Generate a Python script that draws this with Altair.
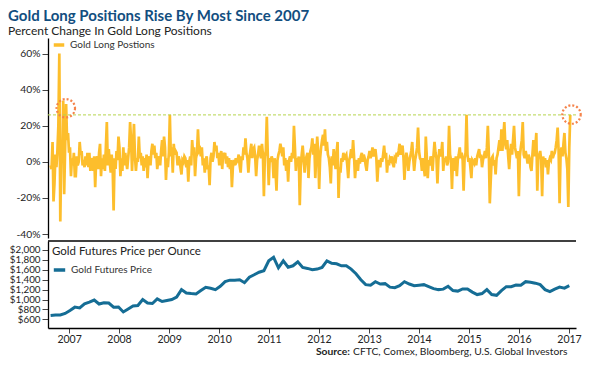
import altair as alt
import pandas as pd

# Percent change in gold long positions (weekly)
long_pct = [
    -2, -4, 11, -22, -12, 4, -3, 6, 20, 60,
    -33, 5, 2, 34, -18, 8, 32, 12, 16, 5,
    8, -8, 2, -2, 5, -8, -8, 3, -2, 0,
    11, 4, 6, -2, 1, -3, 3, -2, 5, -3,
    5, -5, 2, 0, -5, 3, -14, 1, 3, -4,
    5, 10, -8, 2, -4, 4, -5, 8, 22, -2,
    7, 0, -6, 4, -3, -27, 2, -4, 6, 1,
    14, 8, -8, 2, -5, 8, -2, 5, 0, -4,
    2, 8, 22, 12, -5, 8, 21, 3, -5, 2,
    0, 14, 2, 5, -2, 3, -5, 2, -3, 4,
    -9, 1, 3, -2, 6, 10, 4, 9, 2, 5,
    -4, 1, 3, -2, 6, 12, 3, 14, 8, -10,
    2, -3, 5, 26, 3, 8, -6, 10, 4, 6,
    5, -2, 3, 1, -3, -7, 1, 0, 3, 2,
    -3, 1, -11, 0, 3, -2, 12, 4, 8, -8,
    2, 5, 18, 6, 7, 3, 8, -2, 2, -6,
    1, 3, -4, -2, -13, 2, 5, 0, 3, 11,
    6, 9, 2, 5, -2, 3, 6, -4,
    5, 2, 5, -1, 3, -3, 2, -4, 1, -14,
    -3, 1, -2, 2, 0, 1, 4, -2, -6, 3,
    1, 8, 4, 13, 5, 2, -6, 2, 6, 10,
    2, 7, 8, 3, -8, 1, 4, 9, 5, 2,
    10, 4, -19, 3, 6, 25, 4, -13, 2, 0,
    3, 1, -9, 2, -5, -16, 1, 4, 6, 10,
    7, 3, 8, -2, 2, -5, 1, -11, 1, 3,
    0, 5, 2, 20, 8, -5, 2, 0, 3, -24,
    -3, 4, 9, 2, -6, 1, 3, 5, -9, 2,
    6, 8, 13,
    4, 10, -9, 3, 14, 5, -15, 2, 8, 12,
    15, 9, 18, 6, 11, 4, 2, -3, -12, 3,
    -2, 7, 1, -4, 5, 11, -20, -3, -6, 2,
    0, 5, 1, 3, 4, -2, -9, 1, 3, 7,
    2, 12, 3, -9, -2, 1, -5, 2, -1, 3,
    5, 0, 4, 2, -2, -5, 1, 3, 6, 2,
    4, 8, 3, 5, 7, 2, -11, -2, 1, -3,
    2, 0, 4, 9, 2, 5, -6, 1, -2, 2,
    1, 3, -1, -3, 2, 1, 5, 3, 6, 10,
    4, 6,
    9, 2, -10, 1, 5, 2, -5, 0, 3, 6,
    11, 2, -5, 1, 4, 8, 19, 6, 2, 1,
    -5, 2, -3, -8, 14, 3, -9, 1, -2, 3,
    1, -5, 4, 11, 5, 2, -12, 1, 7, 3,
    5, 11, -5, 2, 0, 3, -2, 0, 20, 4,
    1, -15, 2, 0, -5, 3, -8, 1, 4, 8,
    2, 5, 1, -16, 2, 5, 26, 4, 0, 2,
    -3, -9, 1, 0, -1, 2, -2, 3, 5, 7,
    2, 4, -3, 1, 3, 6, 2, 8, 20, 5,
    -23, -10,
    2, 3, -2, 1, -7, 2, 4, 8, 12, 6,
    18, 6, 14, 22, 10, 7, 12, 3, -4, 5,
    10, 4, 12, 20, 8, 5, 2, 6, -19, 3,
    8, 12, 22, 4, 2, 6, 3, -1, 4, 2,
    -3, -5, 4, 12, 3, 8, 16, -16, 2, 4,
    6, 1, -19, 3, 0, 2, -3, 1, -7, 0,
    2, 1, 6, 2, 4, 5, 8, 12, 19, 6,
    -23, 4, 8, 3, 10, 16, 5, 2, -4, -25,
    8, 26,
]

# Gold futures price per ounce (every 5th week)
price = [
    680, 690, 690, 720, 780, 847, 830, 913, 947, 990,
    910, 933, 930, 847, 850, 750, 810, 870, 880, 1000,
    930, 920, 1013, 960, 980, 1000, 1050, 1200, 1130, 1120,
    1113, 1180, 1247, 1227, 1200, 1267, 1360, 1390, 1390, 1400,
    1340, 1450, 1500, 1550, 1580, 1780, 1850, 1640, 1780, 1650,
    1680, 1760, 1647, 1627, 1600, 1613, 1647, 1780, 1730, 1720,
    1680, 1680, 1613, 1520, 1400, 1300, 1290, 1360, 1313, 1320,
    1250, 1240, 1280, 1360, 1313, 1280, 1290, 1300, 1260, 1220,
    1200, 1210, 1267, 1180, 1170, 1213, 1213, 1150, 1100, 1120,
    1200, 1100, 1085, 1180, 1260, 1260, 1293, 1290, 1360, 1350,
    1330, 1300, 1200, 1160, 1210, 1250, 1230, 1280,
]

years = list(range(2007, 2018))
pct_ticks = [-40, -20, 0, 20, 40, 60]
price_ticks = [600, 800, 1000, 1200, 1400, 1600, 1800, 2000]
threshold = [26]
highlight_dates = ["2006-12-08", "2017-01-19"]
highlight_vals = [29.7, 26.2]

GOLD = "#FDBE2C"
BLUE = "#156D95"
GREEN = "#B5D44E"
ORANGE = "#F5834A"
TITLE = "#124E7F"
FONT = "Lato"

dates = pd.date_range("2006-08-19", "2017-01-10", periods=len(long_pct))
top_df = pd.DataFrame({"date": dates, "pct": long_pct, "series": "Gold Long Postions"})
price_df = pd.DataFrame({"date": dates[::5][: len(price)], "price": price,
                         "series": "Gold Futures Price"})
thr_df = pd.DataFrame({"pct": threshold})
hl_df = pd.DataFrame({"date": pd.to_datetime(highlight_dates), "pct": highlight_vals})

W = 528
H1 = 200
H2 = 87
EXT = 39

xscale = alt.Scale(domain=[alt.DateTime(year=2006, month=7, date=31),
                           alt.DateTime(year=2017, month=2, date=21)])
year_ticks = [alt.DateTime(year=y, month=1, date=1) for y in years]

yaxis_common = dict(title=None, grid=False, tickSize=6, labelPadding=2,
                    minExtent=EXT, maxExtent=EXT,
                    labelFont=FONT, labelColor="#222", tickColor="#444",
                    domainColor="#000", domainWidth=1.3, labelOverlap=False,
                    labelBound=False)

pct_axis = alt.Axis(values=pct_ticks, labelExpr="datum.value + '%'", labelFontSize=10.3,
                    **yaxis_common)
pct_scale = alt.Scale(domain=[-42.2, 68.6], nice=False, zero=False)

top_line = alt.Chart(top_df).mark_line(strokeWidth=2.7).encode(
    x=alt.X("date:T", scale=xscale, axis=None),
    y=alt.Y("pct:Q", scale=pct_scale, axis=pct_axis),
    color=alt.Color("series:N", scale=alt.Scale(domain=["Gold Long Postions"], range=[GOLD]),
                    legend=alt.Legend(orient="none", legendX=4, legendY=0, title=None,
                                      symbolType="stroke", symbolStrokeWidth=3.5,
                                      symbolSize=110, labelFontSize=10, labelFont=FONT,
                                      labelColor="#333", padding=0)),
)
thr_rule = alt.Chart(thr_df).mark_rule(color=GREEN, strokeDash=[3, 2], strokeWidth=1).encode(
    y=alt.Y("pct:Q", scale=pct_scale, axis=pct_axis)
)
circles = alt.Chart(hl_df).mark_point(shape="circle", size=340, filled=False, color=ORANGE,
                                      strokeWidth=2.2, strokeDash=[2, 2], opacity=1).encode(
    x=alt.X("date:T", scale=xscale, axis=None),
    y=alt.Y("pct:Q", scale=pct_scale, axis=pct_axis)
)
top = alt.layer(top_line, thr_rule, circles).properties(width=W, height=H1)

price_line = alt.Chart(price_df).mark_line(strokeWidth=3).encode(
    x=alt.X("date:T", scale=xscale,
            axis=alt.Axis(values=year_ticks, format="%Y", title=None, grid=False, tickSize=5,
                          labelFontSize=10.5, labelFont=FONT, labelColor="#222",
                          labelPadding=1, tickColor="#444", domainColor="#000",
                          domainWidth=1.3, labelOverlap=False)),
    y=alt.Y("price:Q", scale=alt.Scale(domain=[427, 2179], nice=False, zero=False),
            axis=alt.Axis(values=price_ticks, format="$,d", labelFontSize=9.8,
                          **yaxis_common)),
    color=alt.Color("series:N", scale=alt.Scale(domain=["Gold Futures Price"], range=[BLUE]),
                    legend=alt.Legend(orient="none", legendX=4, legendY=5,
                                      title="Gold Futures Price per Ounce",
                                      titleFontSize=11.5, titleFontWeight="normal",
                                      titleFont=FONT, titleColor="#222", titlePadding=5,
                                      symbolType="stroke", symbolStrokeWidth=3.5,
                                      symbolSize=130, labelFontSize=10, labelFont=FONT,
                                      labelColor="#333", padding=0)),
)
sep_df = pd.DataFrame({"a": [0]})
sep = alt.Chart(sep_df).mark_rule(color="#000", strokeWidth=1.3).encode(
    y=alt.value(0), x=alt.value(0), x2=alt.value(W)
)
src_bold = alt.Chart(sep_df).mark_text(text="Source:", font=FONT, fontWeight="bold",
                                       fontSize=10.3, align="right", baseline="bottom",
                                       color="#222").encode(
    x=alt.value(W - 226), y=alt.value(116)
)
src_rest = alt.Chart(sep_df).mark_text(text="CFTC, Comex, Bloomberg, U.S. Global Investors",
                                       font=FONT, fontSize=10.3, align="left",
                                       baseline="bottom", color="#222").encode(
    x=alt.value(W - 223), y=alt.value(116)
)
bottom = alt.layer(price_line, sep, src_bold, src_rest).properties(width=W, height=H2)

chart = alt.vconcat(top, bottom, spacing=0).resolve_scale(
    color="independent", y="independent"
).resolve_legend(color="independent").properties(
    padding={"left": 0, "top": 1, "right": 0, "bottom": 0},
    title=alt.TitleParams(text="Gold Long Positions Rise By Most Since 2007",
                          subtitle="Percent Change In Gold Long Positions",
                          anchor="start", font=FONT, fontSize=15, fontWeight="bold",
                          color=TITLE, subtitleFont=FONT, subtitleFontSize=12,
                          subtitleColor="#222", subtitlePadding=2, offset=1, dx=-1),
).configure_view(stroke=None).configure_axis(labelOverlap=False)

chart.save("out.html", embed_options={"renderer": "svg", "actions": False})
